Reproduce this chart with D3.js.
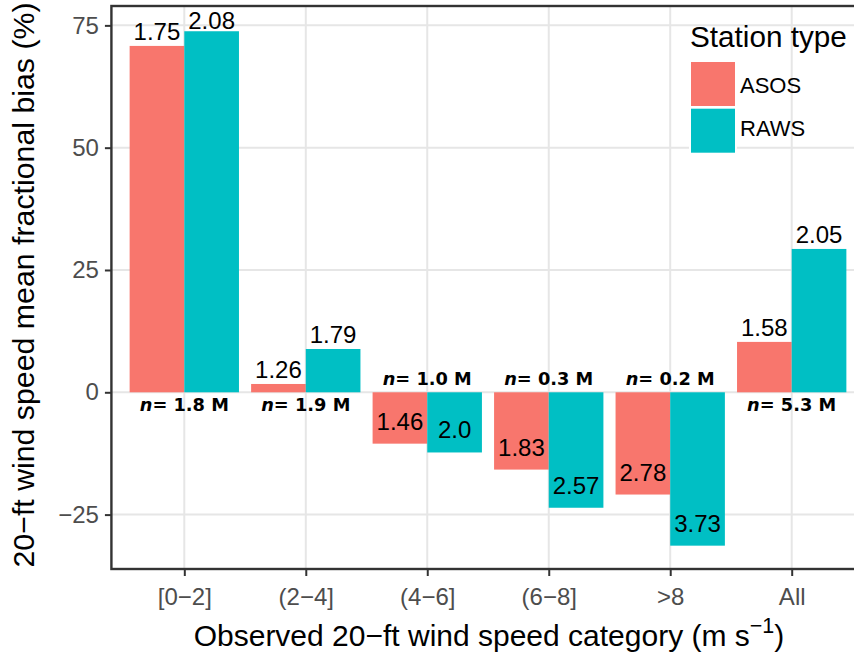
<!DOCTYPE html>
<html>
<head>
<meta charset="utf-8">
<script src="https://cdn.jsdelivr.net/npm/d3@7/dist/d3.min.js"></script>
<style>
  html, body { margin: 0; padding: 0; background: #fff; }
  svg { display: block; }
</style>
</head>
<body>
<svg id="chart" width="854" height="657"></svg>
<script>
// ---- data ----
const categories = ["[0\u22122]", "(2\u22124]", "(4\u22126]", "(6\u22128]", ">8", "All"];
const seriesNames = ["ASOS", "RAWS"];
const asosBias = [70.8, 1.7, -10.5, -15.8, -20.9, 10.3];
const rawsBias = [73.8, 8.85, -12.3, -23.6, -31.35, 29.3];
const asosLabels = ["1.75", "1.26", "1.46", "1.83", "2.78", "1.58"];
const rawsLabels = ["2.08", "1.79", "2.0", "2.57", "3.73", "2.05"];
const nCounts = ["1.8", "1.9", "1.0", "0.3", "0.2", "5.3"];
const yTicks = [-25, 0, 25, 50, 75];
const colors = ["#F8766D", "#00BFC4"];

// ---- layout ----
const svg = d3.select("#chart");
const firstCenter = 184.3, lastCenter = 791.7;
const step = (lastCenter - firstCenter) / (categories.length - 1);
const panelLeft = firstCenter - 0.6 * step;
const panelRight = lastCenter + 0.6 * step;
const panelTop = 6, panelBottom = 569;

const x = d3.scalePoint().domain(categories).range([firstCenter, lastCenter]);
const y = d3.scaleLinear().domain([-36.12, 78.96]).range([panelBottom, panelTop]);
const barW = 0.45 * step;
const SANS = "Liberation Sans, Arial, Helvetica, sans-serif";

// panel background
svg.append("rect").attr("x", panelLeft).attr("y", panelTop)
  .attr("width", panelRight - panelLeft).attr("height", panelBottom - panelTop)
  .attr("fill", "#fff");

// gridlines
const grid = svg.append("g");
grid.selectAll("line.h").data(yTicks).join("line")
  .attr("x1", panelLeft).attr("x2", panelRight)
  .attr("y1", d => y(d)).attr("y2", d => y(d))
  .attr("stroke", "#e6e6e6").attr("stroke-width", 2);
grid.selectAll("line.v").data(categories).join("line")
  .attr("y1", panelTop).attr("y2", panelBottom)
  .attr("x1", d => x(d)).attr("x2", d => x(d))
  .attr("stroke", "#e6e6e6").attr("stroke-width", 2);

// bars
const series = [asosBias, rawsBias];
const labels = [asosLabels, rawsLabels];
series.forEach((vals, s) => {
  svg.append("g").selectAll("rect").data(vals).join("rect")
    .attr("x", (d, i) => x(categories[i]) - barW + s * barW)
    .attr("width", barW)
    .attr("y", d => Math.min(y(d), y(0)))
    .attr("height", d => Math.abs(y(d) - y(0)))
    .attr("fill", colors[s]);
});

// value labels
series.forEach((vals, s) => {
  svg.append("g").selectAll("text").data(vals).join("text")
    .attr("x", (d, i) => x(categories[i]) - barW / 2 + s * barW)
    .attr("y", d => d >= 0 ? Math.max(y(d) - 5.5, panelTop + 23) : y(d) - 14)
    .attr("text-anchor", "middle")
    .attr("font-family", SANS)
    .attr("font-size", 24)
    .attr("fill", "#000")
    .text((d, i) => labels[s][i]);
});

// n labels
const nG = svg.append("g");
nCounts.forEach((c, i) => {
  const above = asosBias[i] < 0;
  const t = nG.append("text")
    .attr("x", x(categories[i]))
    .attr("y", above ? y(0) - 7.5 : y(0) + 18.5)
    .attr("text-anchor", "middle")
    .attr("font-family", "DejaVu Sans, Verdana, sans-serif")
    .attr("font-weight", "bold")
    .attr("font-size", 17.8)
    .attr("fill", "#000");
  t.append("tspan").attr("font-style", "italic").text("n");
  t.append("tspan").text("= " + c + " M");
});

// panel border
svg.append("rect").attr("x", panelLeft).attr("y", panelTop)
  .attr("width", panelRight - panelLeft).attr("height", panelBottom - panelTop)
  .attr("fill", "none").attr("stroke", "#333").attr("stroke-width", 2.4);

// axes
const yAxis = svg.append("g").attr("transform", `translate(${panelLeft},0)`)
  .call(d3.axisLeft(y).tickValues(yTicks).tickSize(6.5).tickPadding(6));
yAxis.select(".domain").remove();
yAxis.selectAll(".tick line").attr("stroke", "#333").attr("stroke-width", 2);
yAxis.selectAll(".tick text")
  .attr("font-family", SANS)
  .attr("font-size", 24).attr("fill", "#4d4d4d");

const xAxis = svg.append("g").attr("transform", `translate(0,${panelBottom})`)
  .call(d3.axisBottom(x).tickSize(7).tickPadding(12));
xAxis.select(".domain").remove();
xAxis.selectAll(".tick line").attr("stroke", "#333").attr("stroke-width", 2);
xAxis.selectAll(".tick text")
  .attr("font-family", SANS)
  .attr("font-size", 24).attr("fill", "#4d4d4d");

// axis titles
const xt = svg.append("text")
  .attr("x", (panelLeft + panelRight) / 2 + 1).attr("y", 646)
  .attr("text-anchor", "middle")
  .attr("font-family", SANS)
  .attr("font-size", 30).attr("fill", "#000");
xt.append("tspan").text("Observed 20\u2212ft wind speed category (m s");
xt.append("tspan").attr("font-size", 21.5).attr("dy", -13.5).text("\u22121");
xt.append("tspan").attr("dy", 13.5).text(")");

svg.append("text")
  .attr("transform", `translate(33.5,${(panelTop + panelBottom) / 2 - 2.5}) rotate(-90)`)
  .attr("text-anchor", "middle")
  .attr("font-family", SANS)
  .attr("font-size", 30.3).attr("fill", "#000")
  .text("20\u2212ft wind speed mean fractional bias (%)");

// legend
const leg = svg.append("g");
leg.append("text").attr("x", 690).attr("y", 47)
  .attr("font-family", SANS)
  .attr("font-size", 29.7).attr("fill", "#000")
  .text("Station type");
leg.append("rect").attr("x", 689).attr("y", 60).attr("width", 48).attr("height", 95).attr("fill", "#fff");
seriesNames.forEach((nm, i) => {
  leg.append("rect").attr("x", 691).attr("y", 62 + i * 46.7)
    .attr("width", 44).attr("height", 44).attr("fill", colors[i]);
  leg.append("text").attr("x", 740).attr("y", 92.7 + i * 43.3)
    .attr("font-family", SANS)
    .attr("font-size", 22).attr("fill", "#000")
    .text(nm);
});
</script>
</body>
</html>
